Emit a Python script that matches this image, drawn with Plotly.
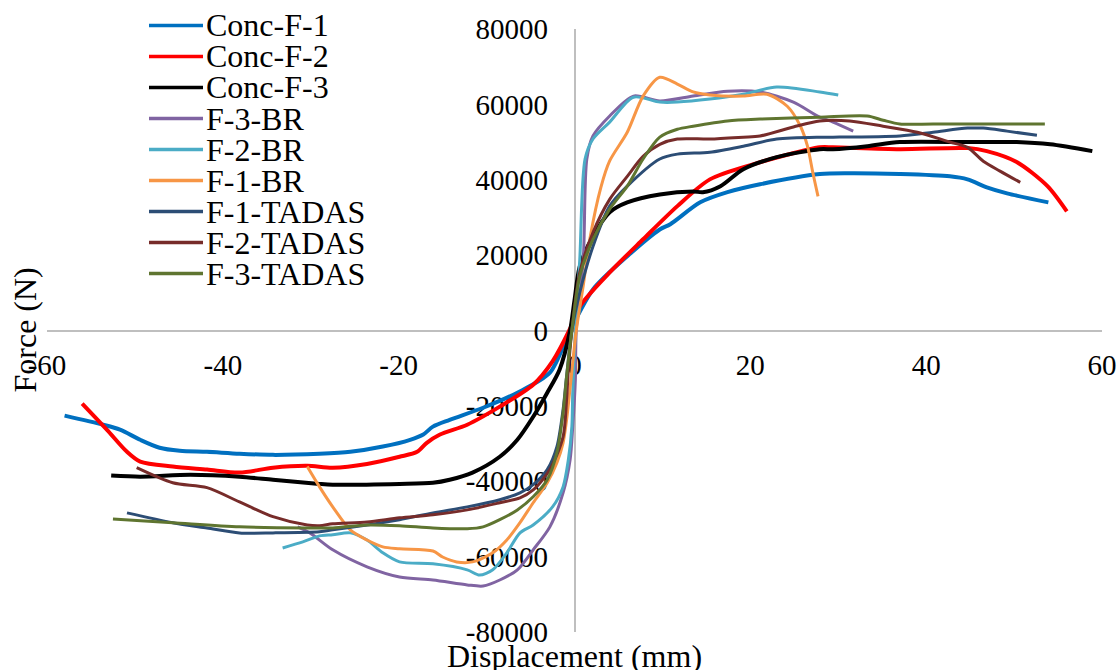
import plotly.graph_objects as go

# ---------------- data ----------------
series_names = ["Conc-F-1", "Conc-F-2", "Conc-F-3", "F-3-BR", "F-2-BR", "F-1-BR",
                "F-1-TADAS", "F-2-TADAS", "F-3-TADAS"]
series_colors = ["#0070C0", "#FF0000", "#000000", "#8064A2", "#4BACC6", "#F79646",
                 "#2C4D75", "#772C2A", "#5F7530"]
series_widths = [4, 4, 4, 3, 3, 3, 3, 3, 3]

conc_f1_x = [-58.0, -53.6, -51.7, -49.4, -47.2, -44.9, -41.8, -38.1, -34.3, -29.0, -25.5, -21.8,
             -18.7, -17.2, -16.1, -14.2, -10.4, -6.5, -2.8, -0.5, 2.1, 6.0, 9.7, 10.9, 14.3, 17.4,
             21.1, 27.9, 31.3, 37.0, 42.7, 44.7, 46.9, 49.2, 53.9]
conc_f1_y = [-22600, -25000, -26300, -29000, -31100, -31900, -32200, -32700, -33000, -32700, -32200,
             -30800, -29000, -27600, -25500, -23700, -20500, -16500, -11200, 0, 10900, 19700, 26800,
             28200, 34000, 36700, 38800, 41500, 41700, 41500, 40900, 40100, 38000, 36400, 34000]

conc_f2_x = [-56.0, -53.2, -50.9, -49.4, -45.7, -41.8, -38.1, -34.3, -30.4, -27.5, -23.6, -19.9,
             -17.9, -16.8, -15.3, -12.2, -8.5, -4.7, -2.5, -0.6, 0.6, 4.0, 7.8, 11.7, 15.4, 20.3,
             27.9, 29.4, 37.0, 44.7, 46.9, 50.3, 53.8, 56.0]
conc_f2_y = [-19400, -26300, -32200, -34800, -36100, -36900, -37700, -36400, -35900, -36400, -35400,
             -33500, -32200, -29800, -27600, -25000, -20200, -14400, -8200, 0, 6400, 15400, 24200,
             33000, 40100, 44100, 48600, 48600, 48100, 48400, 47600, 44700, 38300, 31600]

conc_f3_x = [-52.7, -49.4, -43.7, -38.1, -34.3, -29.0, -27.5, -19.9, -16.1, -14.2, -11.6, -8.5, -6.5,
             -4.7, -3.1, -1.7, -0.5, 0.0, 0.6, 2.1, 4.0, 6.0, 9.7, 13.5, 14.6, 16.6, 19.2, 23.0,
             27.9, 29.4, 33.3, 37.0, 44.7, 50.3, 54.1, 58.9]
conc_f3_y = [-38500, -38800, -38300, -38800, -39600, -40700, -40900, -40700, -40400, -39600, -37700,
             -33500, -29000, -22900, -16500, -10400, 0, 8000, 17000, 25000, 31400, 34000, 36100,
             36900, 36700, 38300, 42800, 46000, 48100, 48100, 48900, 50000, 50000, 50000, 49400, 47600]

f3_br_x = [-31.5, -30.1, -27.5, -23.6, -19.9, -16.1, -12.2, -10.4, -8.5, -6.5, -4.7, -2.8, -1.3,
           -0.5, -0.2, 0.1, 0.2, 1.0, 1.4, 2.1, 4.0, 6.7, 9.7, 13.5, 17.4, 21.1, 24.9, 27.9,
           29.4, 31.7]
f3_br_y = [-52100, -53700, -58200, -62700, -65400, -66200, -67500, -67800, -66200, -63500, -58200,
           -52100, -43100, -34300, -25500, -13000, 0, 18900, 45500, 51600, 56900, 62200, 60900,
           62200, 63500, 63300, 60600, 56600, 55300, 52900]

f2_br_x = [-33.2, -30.9, -29.0, -27.5, -25.5, -23.6, -21.8, -19.9, -16.1, -12.2, -10.8, -9.3, -7.7,
           -6.2, -4.7, -2.5, -1.3, -0.7, -0.3, -0.2, 0.1, 0.6, 1.2, 2.1, 4.0, 6.7, 9.7, 11.7,
           15.4, 19.2, 23.0, 27.9, 30.0]
f2_br_y = [-57700, -56100, -54500, -54200, -53700, -55600, -59000, -61400, -61900, -63500, -64900,
           -63500, -59000, -53700, -51600, -46800, -41500, -34300, -25500, -16500, 0, 18900,
           45500, 50800, 55300, 61900, 60600, 60600, 61400, 62700, 64600, 63300, 62500]

f1_br_x = [-30.4, -29.0, -27.5, -25.5, -23.6, -21.8, -19.9, -16.1, -15.0, -13.4, -11.6, -9.3, -7.7,
           -6.2, -4.7, -3.1, -2.0, -1.3, -0.9, -0.4, 0.2, 1.0, 1.8, 3.0, 4.0, 6.0, 7.8, 9.7,
           11.7, 13.5, 15.4, 19.2, 21.9, 24.2, 25.7, 26.5, 27.1, 27.7]
f1_br_y = [-36100, -41500, -46800, -52900, -55600, -57400, -57900, -58500, -60100, -61400, -61400,
           -59000, -55600, -51000, -45700, -40400, -35100, -29800, -23700, -13000, 0, 12000,
           25000, 38000, 45000, 52600, 62200, 67200, 65400, 63300, 62500, 62200, 62700, 59500,
           54200, 48900, 42000, 35600]

f1_tadas_x = [-50.9, -45.7, -41.8, -38.1, -34.3, -29.0, -27.5, -23.6, -19.9, -16.1, -12.2, -8.5,
              -6.2, -4.7, -3.1, -2.0, -1.3, -0.9, -0.3, 0.6, 2.1, 4.0, 6.0, 9.7, 11.7, 15.4, 19.2,
              23.0, 27.9, 29.4, 37.0, 40.8, 44.7, 46.5, 49.2, 52.6]
f1_tadas_y = [-48400, -51000, -52400, -53700, -53700, -53400, -52900, -51600, -50200, -48400, -46800,
              -44900, -43100, -40900, -36900, -30800, -21000, -12200, 0, 10100, 22300, 33000,
              38300, 45500, 46800, 47300, 48900, 50800, 51300, 51300, 51600, 52600, 53700, 53700,
              52900, 51800]

f2_tadas_x = [-49.8, -45.7, -41.8, -38.1, -34.3, -30.4, -29.0, -27.5, -23.6, -19.9, -16.1, -12.2,
              -8.5, -6.2, -4.7, -2.8, -1.3, -0.9, -0.7, -0.3, 0.6, 2.1, 4.0, 6.0, 7.8, 9.7, 11.7,
              15.4, 19.2, 21.1, 24.9, 27.9, 31.3, 35.1, 39.0, 42.7, 44.7, 46.5, 48.4, 50.7]
f2_tadas_y = [-36400, -40400, -41700, -45500, -49400, -51600, -51800, -51300, -50800, -49700, -48900,
              -47600, -45700, -44400, -42300, -36900, -28200, -18300, -10400, 0, 15400, 26000,
              34800, 40900, 46200, 49400, 50800, 50800, 51300, 51600, 54000, 55600, 55600, 54200,
              52600, 50000, 48600, 44900, 42300, 39300]

f3_tadas_x = [-52.5, -45.7, -38.1, -30.4, -27.5, -23.6, -19.9, -16.1, -12.2, -10.4, -8.5, -6.5, -4.7,
              -3.1, -2.0, -1.3, -0.9, -0.3, 0.6, 2.1, 4.0, 6.0, 7.8, 9.7, 11.7, 13.5, 17.4, 21.1,
              27.9, 33.3, 35.1, 37.0, 40.8, 48.4, 53.5]
f3_tadas_y = [-50000, -51000, -52100, -52400, -52400, -51600, -51800, -52400, -52600, -52100, -50200,
              -47600, -44100, -39600, -32400, -21800, -12200, 0, 14400, 24200, 32200, 38300, 45500,
              51300, 53400, 54200, 55600, 56100, 56600, 56900, 55800, 54800, 54800, 54800, 54800]

x_tick_vals = [-60, -40, -20, 0, 20, 40, 60]
x_tick_text = ["-60", "-40", "-20", "0", "20", "40", "60"]
y_tick_vals = [-80000, -60000, -40000, -20000, 0, 20000, 40000, 60000, 80000]
y_tick_text = ["-80000", "-60000", "-40000", "-20000", "0", "20000", "40000", "60000", "80000"]

series_x = [conc_f1_x, conc_f2_x, conc_f3_x, f3_br_x, f2_br_x, f1_br_x, f1_tadas_x, f2_tadas_x, f3_tadas_x]
series_y = [conc_f1_y, conc_f2_y, conc_f3_y, f3_br_y, f2_br_y, f1_br_y, f1_tadas_y, f2_tadas_y, f3_tadas_y]

# ---------------- figure ----------------
FONT = "Liberation Serif, Times New Roman, serif"
W_PX, H_PX = 1119, 670
M_L, M_R, M_T, M_B = 47, 17, 29, 38
PW, PH = W_PX - M_L - M_R, H_PX - M_T - M_B

def px_to_paper_x(px):
    return (px - M_L) / PW

def px_to_paper_y(py):
    return 1 - (py - M_T) / PH

fig = go.Figure()
for name, xs, ys, col, wd in zip(series_names, series_x, series_y, series_colors, series_widths):
    fig.add_trace(go.Scatter(x=xs, y=ys, mode="lines", name=name,
                             line=dict(color=col, width=wd, shape="spline", smoothing=0.8),
                             showlegend=False, cliponaxis=True))

# manual legend (to match the compact row spacing of the original)
shapes = []
annotations = []
row0, row_step = 25.5, 31.0
for i, (name, col, wd) in enumerate(zip(series_names, series_colors, series_widths)):
    yy = px_to_paper_y(row0 + i * row_step)
    shapes.append(dict(type="line", xref="paper", yref="paper",
                       x0=px_to_paper_x(149), x1=px_to_paper_x(203), y0=yy, y1=yy,
                       line=dict(color=col, width=3.5)))
    annotations.append(dict(text=name, xref="paper", yref="paper",
                            x=px_to_paper_x(204), y=yy, xanchor="left", yanchor="middle",
                            showarrow=False, font=dict(family=FONT, size=32, color="#000000")))

annotations.append(dict(text="Displacement (mm)", xref="paper", yref="paper",
                        x=0.5, y=px_to_paper_y(656), xanchor="center", yanchor="middle",
                        showarrow=False, font=dict(family=FONT, size=32, color="#000000")))
annotations.append(dict(text="Force (N)", xref="paper", yref="paper",
                        x=px_to_paper_x(24), y=0.5, xanchor="center", yanchor="middle",
                        textangle=-90, showarrow=False,
                        font=dict(family=FONT, size=32, color="#000000")))

fig.update_layout(
    width=W_PX, height=H_PX, autosize=False,
    margin=dict(l=M_L, r=M_R, t=M_T, b=M_B, autoexpand=False),
    paper_bgcolor="white", plot_bgcolor="white",
    font=dict(family=FONT, size=29, color="#000000"),
    shapes=shapes, annotations=annotations,
    xaxis=dict(range=[-60, 60], tickvals=x_tick_vals, ticktext=x_tick_text, automargin=False,
               showgrid=False, zeroline=False, showline=True, linecolor="#BFBFBF", linewidth=1.5,
               anchor="free", position=0.5, ticks="", ticklabelstandoff=9,
               tickfont=dict(family=FONT, size=29, color="#000000"), layer="below traces"),
    yaxis=dict(range=[-80000, 80000], tickvals=y_tick_vals, ticktext=y_tick_text, automargin=False,
               showgrid=False, zeroline=False, showline=True, linecolor="#BFBFBF", linewidth=1.5,
               anchor="free", position=0.5, ticks="", ticklabelstandoff=20,
               tickfont=dict(family=FONT, size=29, color="#000000"), layer="below traces"),
)

fig.write_html("out.html", config={"displayModeBar": False},
               post_script="document.body.style.margin='0px';document.body.style.overflow='hidden';")
